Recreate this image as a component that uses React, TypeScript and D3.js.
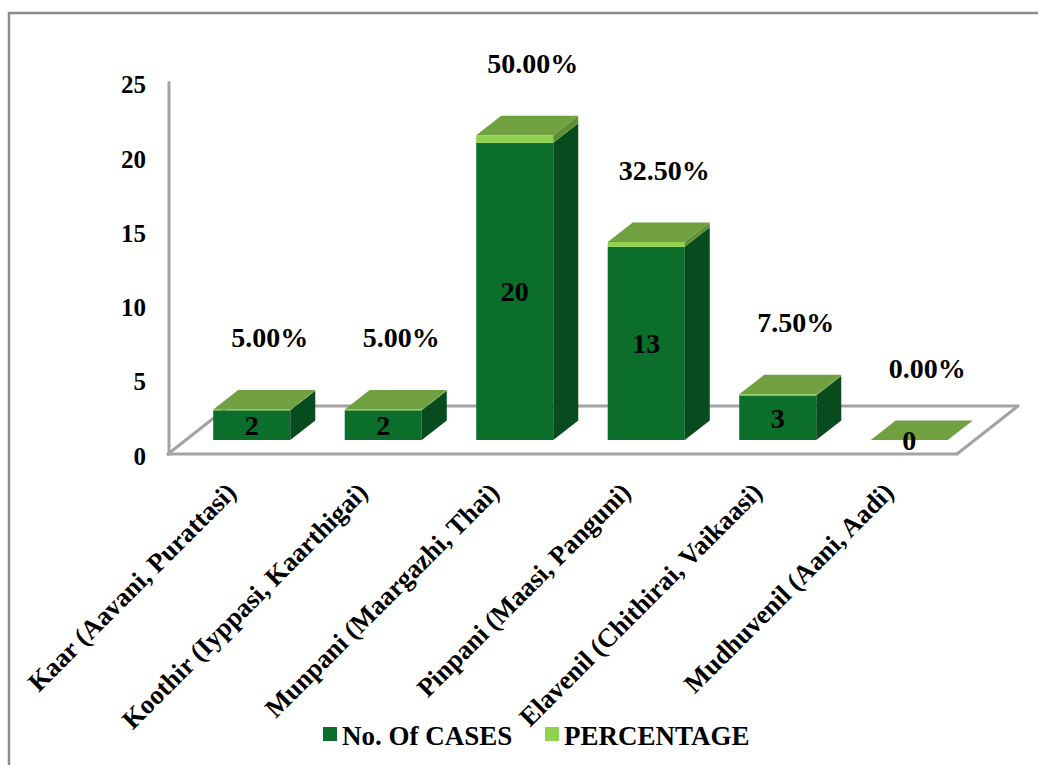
import React from "react";
import * as d3 from "d3";

// Seasons and their counts
const categories = [
  "Kaar (Aavani, Purattasi)",
  "Koothir (Iyppasi, Kaarthigai)",
  "Munpani (Maargazhi, Thai)",
  "Pinpani (Maasi, Panguni)",
  "Elavenil (Chithirai, Vaikaasi)",
  "Mudhuvenil (Aani, Aadi)",
];
const cases = [2, 2, 20, 13, 3, 0];
const percentages = [5.0, 5.0, 50.0, 32.5, 7.5, 0.0];
const yTicks = [0, 5, 10, 15, 20, 25];
const seriesNames = ["No. Of CASES", "PERCENTAGE"];

const W = 1038;
const H = 765;
const FONT = "'Liberation Serif', 'Times New Roman', serif";

// floor geometry (oblique projection)
const floorX0 = 168;
const floorX1 = 957;
const floorY = 454;
const floorDepth = { dx: 61, dy: -48 };
const barFront = { dx: 18, dy: -14 };
const barDepth = { dx: 25, dy: -19.5 };

const colors = {
  casesFront: "#0b6e2b",
  casesSide: "#074b1e",
  pctFront: "#92d050",
  pctSide: "#5f8f34",
  top: "#70a040",
  axis: "#a3a3a3",
};

export default function App() {
  const x = d3
    .scaleBand<string>()
    .domain(categories)
    .range([floorX0, floorX1])
    .paddingInner(0.414)
    .paddingOuter(0.207);
  const y = d3.scaleLinear().domain([0, 25]).range([floorY, 82.5]);

  const pts = (p: [number, number][]) => p.map((q) => q.join(",")).join(" ");

  const bars = categories.map((c, i) => {
    const x0 = (x(c) as number) + barFront.dx;
    const x1 = x0 + x.bandwidth();
    const v0 = 0;
    const v1 = cases[i];
    const v2 = cases[i] + percentages[i] / 100;
    const yb = y(v0) + barFront.dy;
    const yc = y(v1) + barFront.dy;
    const yt = y(v2) + barFront.dy;
    const dx = barDepth.dx;
    const dy = barDepth.dy;
    return (
      <g key={c}>
        {v1 > 0 && (
          <>
            <rect x={x0} y={yc} width={x1 - x0} height={yb - yc} fill={colors.casesFront} />
            <polygon
              points={pts([
                [x1, yc],
                [x1 + dx, yc + dy],
                [x1 + dx, yb + dy],
                [x1, yb],
              ])}
              fill={colors.casesSide}
            />
          </>
        )}
        {v2 > v1 && (
          <>
            <rect x={x0} y={yt} width={x1 - x0} height={yc - yt} fill={colors.pctFront} />
            <polygon
              points={pts([
                [x1, yt],
                [x1 + dx, yt + dy],
                [x1 + dx, yc + dy],
                [x1, yc],
              ])}
              fill={colors.pctSide}
            />
          </>
        )}
        <polygon
          points={pts([
            [x0, yt],
            [x1, yt],
            [x1 + dx, yt + dy],
            [x0 + dx, yt + dy],
          ])}
          fill={colors.top}
        />
        <text
          x={(x0 + x1) / 2}
          y={(yb + yc) / 2}
          dy="0.35em"
          textAnchor="middle"
          fontSize={28}
          fontWeight="bold"
          fontFamily={FONT}
          fill="#000"
        >
          {cases[i]}
        </text>
        <text
          x={(x0 + x1) / 2 + 18}
          y={yt - 72}
          dy="0.35em"
          textAnchor="middle"
          fontSize={28}
          fontWeight="bold"
          fontFamily={FONT}
          fill="#000"
        >
          {percentages[i].toFixed(2) + "%"}
        </text>
      </g>
    );
  });

  const backY = floorY + floorDepth.dy;

  return (
    <svg
      width={W}
      height={H}
      style={{ position: "absolute", left: 0, top: 0, display: "block", background: "#fff" }}
    >
      <rect x={0} y={0} width={W} height={H} fill="#fff" />
      {/* chart frame */}
      <rect x={9} y={13} width={W + 50} height={H + 50} fill="none" stroke="#8c8c8c" strokeWidth={2.5} />

      {/* floor */}
      <g stroke={colors.axis} strokeWidth={3} fill="none" strokeLinecap="round">
        <line x1={floorX0 + floorDepth.dx} y1={backY} x2={floorX1 + floorDepth.dx} y2={backY} />
        <line x1={floorX0} y1={floorY} x2={floorX0 + floorDepth.dx} y2={backY} />
        <line x1={floorX1} y1={floorY} x2={floorX1 + floorDepth.dx} y2={backY} />
        <line x1={floorX0} y1={floorY} x2={floorX1} y2={floorY} />
        <line x1={floorX0 + 1} y1={y(0)} x2={floorX0 + 1} y2={y(25)} />
      </g>

      {/* value axis labels */}
      {yTicks.map((t) => (
        <text
          key={t}
          x={146}
          y={y(t) + 2}
          dy="0.35em"
          textAnchor="end"
          fontSize={25}
          fontWeight="bold"
          fontFamily={FONT}
        >
          {t}
        </text>
      ))}

      {bars}

      {/* category labels */}
      {categories.map((c) => {
        const cx = (x(c) as number) + x.bandwidth() / 2 + 4;
        const cy = 494;
        return (
          <text
            key={c}
            transform={`translate(${cx},${cy}) rotate(-45)`}
            textAnchor="end"
            fontSize={26.5}
            fontWeight="bold"
            fontFamily={FONT}
          >
            {c}
          </text>
        );
      })}

      {/* legend */}
      <g fontFamily={FONT} fontWeight="bold" fontSize={27}>
        <rect x={323} y={727} width={14} height={14} fill={colors.casesFront} />
        <text x={342} y={745}>
          {seriesNames[0]}
        </text>
        <rect x={545} y={727} width={14} height={14} fill={colors.pctFront} />
        <text x={564} y={745}>
          {seriesNames[1]}
        </text>
      </g>
    </svg>
  );
}
